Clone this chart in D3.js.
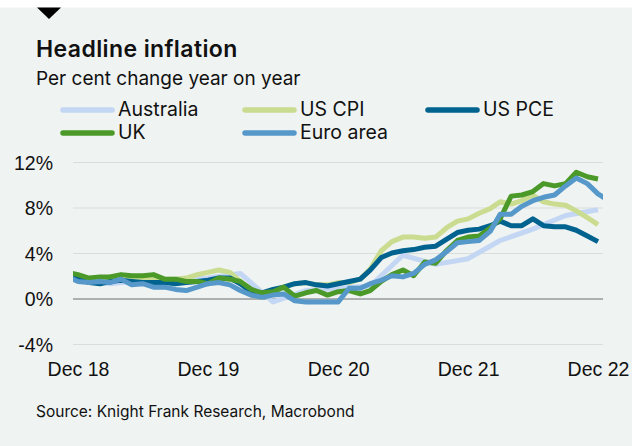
<!DOCTYPE html>
<html>
<head>
<meta charset="utf-8">
<script src="https://cdn.jsdelivr.net/npm/d3@7"></script>
<style>
  html, body { margin: 0; padding: 0; background: #fff; }
  svg { display: block; font-family: Inter, "Liberation Sans", Arial, sans-serif; }
</style>
</head>
<body>
<svg id="chart" width="632" height="446"></svg>
<script>
// Headline inflation, per cent change year on year

// Monthly series start in Nov 2018
const monthlyStart = "2018-11";

const ukValues = [2.3, 2.1,
  1.8, 1.9, 1.9, 2.1, 2.0, 2.0, 2.1, 1.7, 1.7, 1.5, 1.5, 1.3,
  1.8, 1.7, 1.5, 0.8, 0.5, 0.6, 1.0, 0.2, 0.5, 0.7, 0.3, 0.6,
  0.7, 0.4, 0.7, 1.5, 2.1, 2.5, 2.0, 3.2, 3.1, 4.2, 5.1, 5.4,
  5.5, 6.2, 7.0, 9.0, 9.1, 9.4, 10.1, 9.9, 10.1, 11.1, 10.7, 10.5];

const usCpiValues = [2.2, 1.9,
  1.6, 1.5, 1.9, 2.0, 1.8, 1.6, 1.8, 1.7, 1.7, 1.8, 2.1, 2.3,
  2.5, 2.3, 1.5, 0.3, 0.1, 0.6, 1.0, 1.3, 1.4, 1.2, 1.2, 1.4,
  1.4, 1.7, 2.6, 4.2, 5.0, 5.4, 5.4, 5.3, 5.4, 6.2, 6.8, 7.0,
  7.5, 7.9, 8.5, 8.3, 8.6, 9.1, 8.5, 8.3, 8.2, 7.7, 7.1, 6.5];

const usPceValues = [1.8, 1.8,
  1.4, 1.3, 1.5, 1.6, 1.5, 1.4, 1.4, 1.4, 1.3, 1.4, 1.5, 1.6,
  1.8, 1.8, 1.3, 0.6, 0.5, 0.8, 1.0, 1.3, 1.4, 1.2, 1.1, 1.3,
  1.5, 1.7, 2.5, 3.6, 4.0, 4.2, 4.3, 4.5, 4.6, 5.2, 5.8, 6.0,
  6.1, 6.4, 6.8, 6.4, 6.4, 7.0, 6.4, 6.3, 6.3, 6.0, 5.5, 5.0];

const euroValues = [1.9, 1.5,
  1.4, 1.5, 1.4, 1.7, 1.2, 1.3, 1.0, 1.0, 0.8, 0.7, 1.0, 1.3,
  1.4, 1.2, 0.7, 0.3, 0.1, 0.3, 0.4, -0.2, -0.3, -0.3, -0.3, -0.3,
  0.9, 0.9, 1.3, 1.6, 2.0, 1.9, 2.2, 3.0, 3.4, 4.1, 4.9, 5.0,
  5.1, 5.9, 7.4, 7.4, 8.1, 8.6, 8.9, 9.1, 9.9, 10.6, 10.1, 9.2,
  8.6];

// Australia is quarterly
const ausQuarters = ["2018-09", "2018-12", "2019-03", "2019-06", "2019-09", "2019-12",
  "2020-03", "2020-06", "2020-09", "2020-12", "2021-03", "2021-06", "2021-09",
  "2021-12", "2022-03", "2022-06", "2022-09", "2022-12"];
const ausValues = [1.9, 1.8, 1.3, 1.6, 1.7, 1.8, 2.2, -0.3, 0.7, 0.9, 1.1, 3.8, 3.0,
  3.5, 5.1, 6.1, 7.3, 7.8];

const xTickLabels = ["Dec 18", "Dec 19", "Dec 20", "Dec 21", "Dec 22"];
const xTickDates = ["2018-12", "2019-12", "2020-12", "2021-12", "2022-12"];
const yTicks = [-4, 0, 4, 8, 12];

const seriesNames = ["Australia", "US CPI", "US PCE", "UK", "Euro area"];
const seriesColors = ["#c3d6f4", "#cadc8f", "#00628f", "#4b9a29", "#5598c9"];

const parseMonth = d3.timeParse("%Y-%m");
const monthly = (vals) => vals.map((v, i) => ({ date: d3.timeMonth.offset(parseMonth(monthlyStart), i), value: v }));

const series = [
  { name: "Australia", data: ausQuarters.map((q, i) => ({ date: parseMonth(q), value: ausValues[i] })) },
  { name: "US CPI", data: monthly(usCpiValues) },
  { name: "US PCE", data: monthly(usPceValues) },
  { name: "UK", data: monthly(ukValues) },
  { name: "Euro area", data: monthly(euroValues) }
];

const color = d3.scaleOrdinal().domain(seriesNames).range(seriesColors);

const svg = d3.select("#chart");
const W = 632, H = 446;
const plot = { left: 73, right: 603 };

// Panel background and marker
svg.append("rect").attr("x", 0).attr("y", 0).attr("width", W).attr("height", H).attr("fill", "#ffffff");
svg.append("rect").attr("x", 0).attr("y", 7.5).attr("width", W).attr("height", H - 7.5).attr("fill", "#eff3f2");
svg.append("path").attr("d", "M37,7.5 L61,7.5 L49,19 Z").attr("fill", "#000");

// Titles
svg.append("text").attr("x", 36).attr("y", 57)
  .attr("font-size", 23).attr("font-weight", 600).attr("letter-spacing", 0.4).attr("fill", "#111")
  .text("Headline inflation");
svg.append("text").attr("x", 36).attr("y", 85)
  .attr("font-size", 19).attr("fill", "#111")
  .text("Per cent change year on year");

// Legend: three columns, two rows
const legendCols = [60, 242, 425];
const legendRows = [110, 133];
const legend = svg.append("g");
seriesNames.forEach((name, i) => {
  const cx = legendCols[i % 3], cy = legendRows[Math.floor(i / 3)];
  legend.append("line")
    .attr("x1", cx + 3).attr("x2", cx + 52).attr("y1", cy).attr("y2", cy)
    .attr("stroke", color(name)).attr("stroke-width", 5.5).attr("stroke-linecap", "round");
  legend.append("text")
    .attr("x", cx + 58).attr("y", cy + 6)
    .attr("font-size", 19.5).attr("fill", "#111")
    .text(name);
});

// Scales
const x = d3.scaleTime()
  .domain([parseMonth("2018-12"), parseMonth("2022-12")])
  .range([78, 598]);
const y = d3.scaleLinear().domain([-4, 12]).range([344, 162]);

// Y axis with gridlines
const yAxis = svg.append("g")
  .attr("transform", `translate(${plot.left},0)`)
  .call(d3.axisLeft(y).tickValues(yTicks).tickSize(-(plot.right - plot.left)).tickPadding(20)
    .tickFormat(d => d + "%"));
yAxis.select(".domain").remove();
yAxis.selectAll(".tick line")
  .attr("stroke", d => d === 0 ? "#6b6e6e" : "#d9dddc")
  .attr("stroke-width", d => d === 0 ? 1.1 : 1.2);
yAxis.selectAll(".tick text")
  .attr("font-size", 19.5).attr("fill", "#111")
  .attr("font-family", null).attr("dy", "0.36em");

// X axis labels
const xAxis = svg.append("g")
  .attr("transform", "translate(0,351)")
  .call(d3.axisBottom(x).tickValues(xTickDates.map(parseMonth)).tickSize(0).tickPadding(0)
    .tickFormat((d, i) => xTickLabels[i]));
xAxis.select(".domain").remove();
xAxis.selectAll(".tick text")
  .attr("font-size", 19.5).attr("fill", "#111").attr("font-family", null)
  .attr("dy", "0").attr("y", 25);

// Lines, clipped to the plot width
svg.append("clipPath").attr("id", "plot-clip")
  .append("rect").attr("x", plot.left).attr("y", 0)
  .attr("width", plot.right - plot.left).attr("height", H);

const line = d3.line().x(d => x(d.date)).y(d => y(d.value));

svg.append("g").attr("clip-path", "url(#plot-clip)")
  .selectAll("path")
  .data(series)
  .join("path")
  .attr("d", d => line(d.data))
  .attr("fill", "none")
  .attr("stroke", d => color(d.name))
  .attr("stroke-width", 5)
  .attr("stroke-linejoin", "round");

// Source note
svg.append("text").attr("x", 36).attr("y", 417)
  .attr("font-size", 15.5).attr("fill", "#111")
  .text("Source: Knight Frank Research, Macrobond");
</script>
</body>
</html>
